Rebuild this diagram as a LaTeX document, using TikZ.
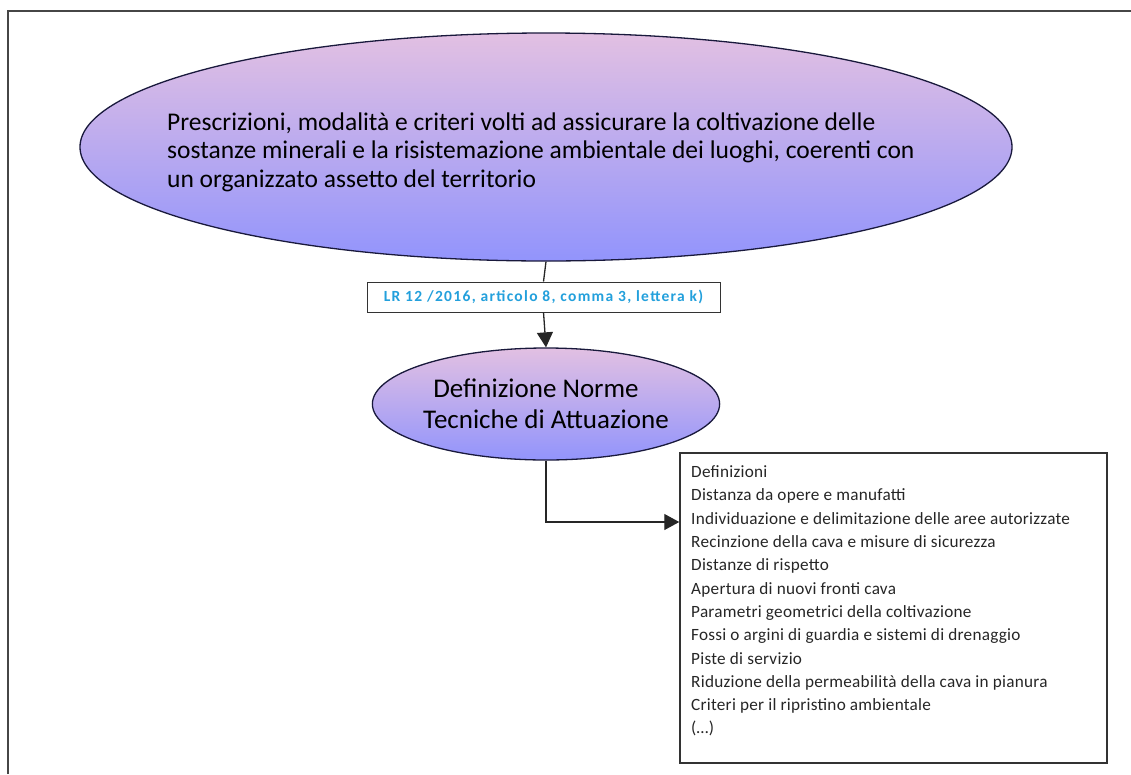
\documentclass[tikz,border=0pt]{standalone}
\usepackage{fontspec}
\setmainfont{Carlito}
\usetikzlibrary{shapes.geometric,arrows.meta}

\definecolor{ellTop}{RGB}{226,192,226}
\definecolor{ellBot}{RGB}{146,148,252}
\definecolor{ellLine}{RGB}{25,25,60}
\definecolor{refBlue}{RGB}{35,160,220}
\definecolor{frameGray}{RGB}{70,70,70}

\tikzset{
  bubble/.style={ellipse, draw=ellLine, line width=1.3pt, inner sep=0pt,
                 top color=ellTop, bottom color=ellBot},
  refbox/.style={draw=black!80, line width=1pt, inner sep=0pt, fill=white},
  listbox/.style={draw=black!80, line width=1.5pt, inner sep=0pt},
  link/.style={line width=1.3pt, black!85},
  tip/.style={-{Triangle[width=16pt,length=15pt]}}
}

\begin{document}
\begin{tikzpicture}[x=1pt,y=-1pt]
\useasboundingbox (0,0) rectangle (1131,774);

% outer frame (left and top edges only)
\draw[frameGray, line width=2.2pt] (8,774) -- (8,11) -- (1131,11);

% main statement
\node[bubble, minimum width=932pt, minimum height=228pt] (goal) at (546,147) {};
\node[anchor=west, align=left, inner sep=0pt, font=\fontsize{25.5}{28.5}\selectfont]
  (goalText) at (167,152)
  {Prescrizioni, modalità e criteri volti ad assicurare la coltivazione delle\\
   sostanze minerali e la risistemazione ambientale dei luoghi, coerenti con\\
   un organizzato assetto del territorio};

% legal reference
\node[refbox, minimum width=353pt, minimum height=30pt,
      font=\fontsize{15.5}{18}\selectfont\bfseries\addfontfeature{LetterSpace=8.5},
      text=refBlue]
  (law) at (543.5,297) {LR 12 /2016, articolo 8, comma 3, lettera k)};

% technical norms
\node[bubble, minimum width=322pt, minimum height=112pt,
      align=center, font=\fontsize{27}{31}\selectfont] (nta) at (546,404)
  {Definizione Norme\hspace*{20pt}\\Tecniche di Attuazione};

% list of contents
\node[listbox, minimum width=427pt, minimum height=310pt] (list) at (893.5,608) {};
\node[anchor=west, align=left, inner sep=0pt, text=black!85,
      font=\fontsize{17.2}{23.3}\selectfont\addfontfeature{LetterSpace=1.5}]
  (listText) at (691,601)
  {Definizioni\\
   Distanza da opere e manufatti\\
   Individuazione e delimitazione delle aree autorizzate\\
   Recinzione della cava e misure di sicurezza\\
   Distanze di rispetto\\
   Apertura di nuovi fronti cava\\
   Parametri geometrici della coltivazione\\
   Fossi o argini di guardia e sistemi di drenaggio\\
   Piste di servizio\\
   Riduzione della permeabilità della cava in pianura\\
   Criteri per il ripristino ambientale\\
   (\ldots)};

% connectors
\coordinate (listIn) at (list.west |- 0,522);
\draw[link] (goal.south) -- (law.north);
\draw[link, tip] (law.south) -- (nta.north);
\draw[link, tip] (nta.south) |- (listIn);
\end{tikzpicture}
\end{document}
